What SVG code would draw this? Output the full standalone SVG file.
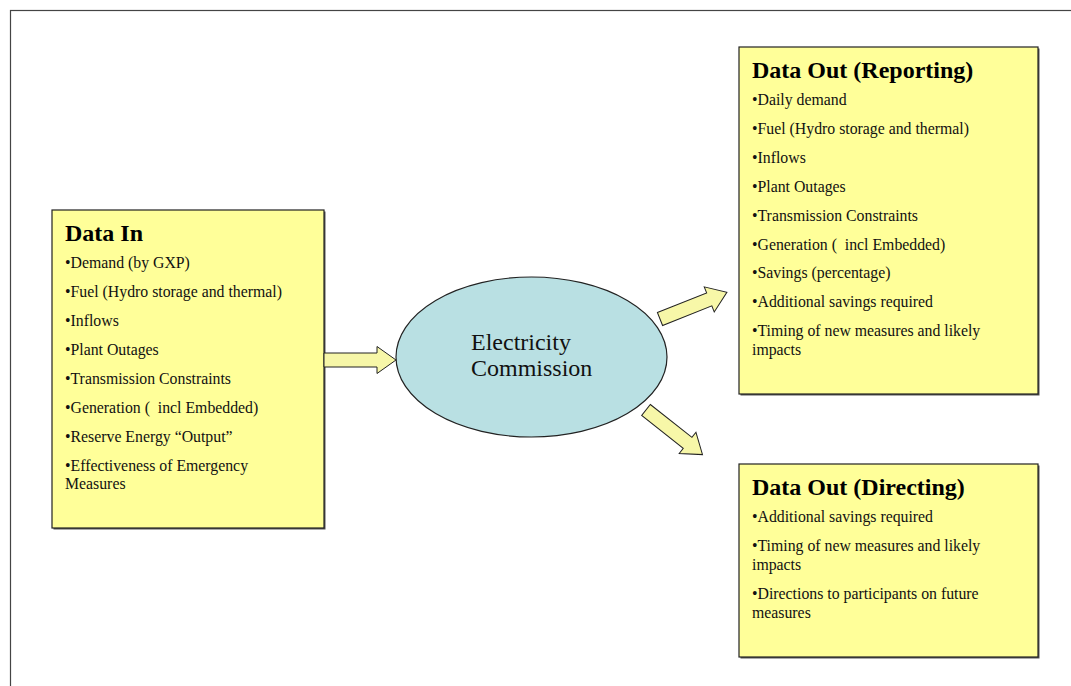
<svg xmlns="http://www.w3.org/2000/svg" width="1071" height="686" viewBox="0 0 1071 686">
<style>
.box{fill:#FFFF99;stroke:#222;stroke-width:1.2}
.shadow{fill:#555}
.title{font-family:"Liberation Serif","Times New Roman",serif;font-weight:bold;font-size:24px;fill:#000}
.item{font-family:"Liberation Serif","Times New Roman",serif;font-size:15.8px;fill:#111}
.center{font-family:"Liberation Serif","Times New Roman",serif;font-size:24px;fill:#111}
.arrow{fill:#F7F7A8;stroke:#222;stroke-width:1}
</style>
<defs>
<path id="arr" d="M0,-7 L53,-7 L53,-13.5 L72,0 L53,13.5 L53,7 L0,7 Z"/>
</defs>
<rect width="1071" height="686" fill="#fff"/>
<rect x="10.5" y="10.5" width="1100" height="700" fill="none" stroke="#444" stroke-width="1.2"/>

<g id="data-in">
<rect class="shadow" x="53.5" y="211.5" width="272" height="318"/>
<rect class="box" x="52" y="210" width="272" height="318"/>
<text class="title" x="65" y="241">Data In</text>
<text class="item" x="65" y="268">•Demand (by GXP)</text>
<text class="item" x="65" y="297">•Fuel (Hydro storage and thermal)</text>
<text class="item" x="65" y="326">•Inflows</text>
<text class="item" x="65" y="355">•Plant Outages</text>
<text class="item" x="65" y="384">•Transmission Constraints</text>
<text class="item" x="65" y="413" xml:space="preserve">•Generation (  incl Embedded)</text>
<text class="item" x="65" y="442">•Reserve Energy “Output”</text>
<text class="item" x="65" y="471">•Effectiveness of Emergency</text>
<text class="item" x="65" y="489">Measures</text>
</g>

<g id="commission">
<ellipse cx="531.5" cy="357" rx="135.5" ry="80" fill="#B9E0E3" stroke="#222" stroke-width="1.2"/>
<text class="center" x="471" y="350">Electricity</text>
<text class="center" x="471" y="376">Commission</text>
</g>

<g id="data-out-reporting">
<rect class="shadow" x="740.5" y="48.5" width="299" height="347"/>
<rect class="box" x="739" y="47" width="299" height="347"/>
<text class="title" x="752" y="78">Data Out (Reporting)</text>
<text class="item" x="752" y="105">•Daily demand</text>
<text class="item" x="752" y="134">•Fuel (Hydro storage and thermal)</text>
<text class="item" x="752" y="163">•Inflows</text>
<text class="item" x="752" y="192">•Plant Outages</text>
<text class="item" x="752" y="221">•Transmission Constraints</text>
<text class="item" x="752" y="250" xml:space="preserve">•Generation (  incl Embedded)</text>
<text class="item" x="752" y="278">•Savings (percentage)</text>
<text class="item" x="752" y="307">•Additional savings required</text>
<text class="item" x="752" y="336">•Timing of new measures and likely</text>
<text class="item" x="752" y="355">impacts</text>
</g>

<g id="data-out-directing">
<rect class="shadow" x="740.5" y="465.5" width="299" height="193"/>
<rect class="box" x="739" y="464" width="299" height="193"/>
<text class="title" x="752" y="495">Data Out (Directing)</text>
<text class="item" x="752" y="522">•Additional savings required</text>
<text class="item" x="752" y="551">•Timing of new measures and likely</text>
<text class="item" x="752" y="570">impacts</text>
<text class="item" x="752" y="599">•Directions to participants on future</text>
<text class="item" x="752" y="618">measures</text>
</g>

<g id="connectors">
<use href="#arr" class="arrow" transform="translate(324,360)"/>
<use href="#arr" class="arrow" transform="translate(660,319) rotate(-21.7)"/>
<use href="#arr" class="arrow" transform="translate(646,410) rotate(38.3)"/>
</g>
</svg>
